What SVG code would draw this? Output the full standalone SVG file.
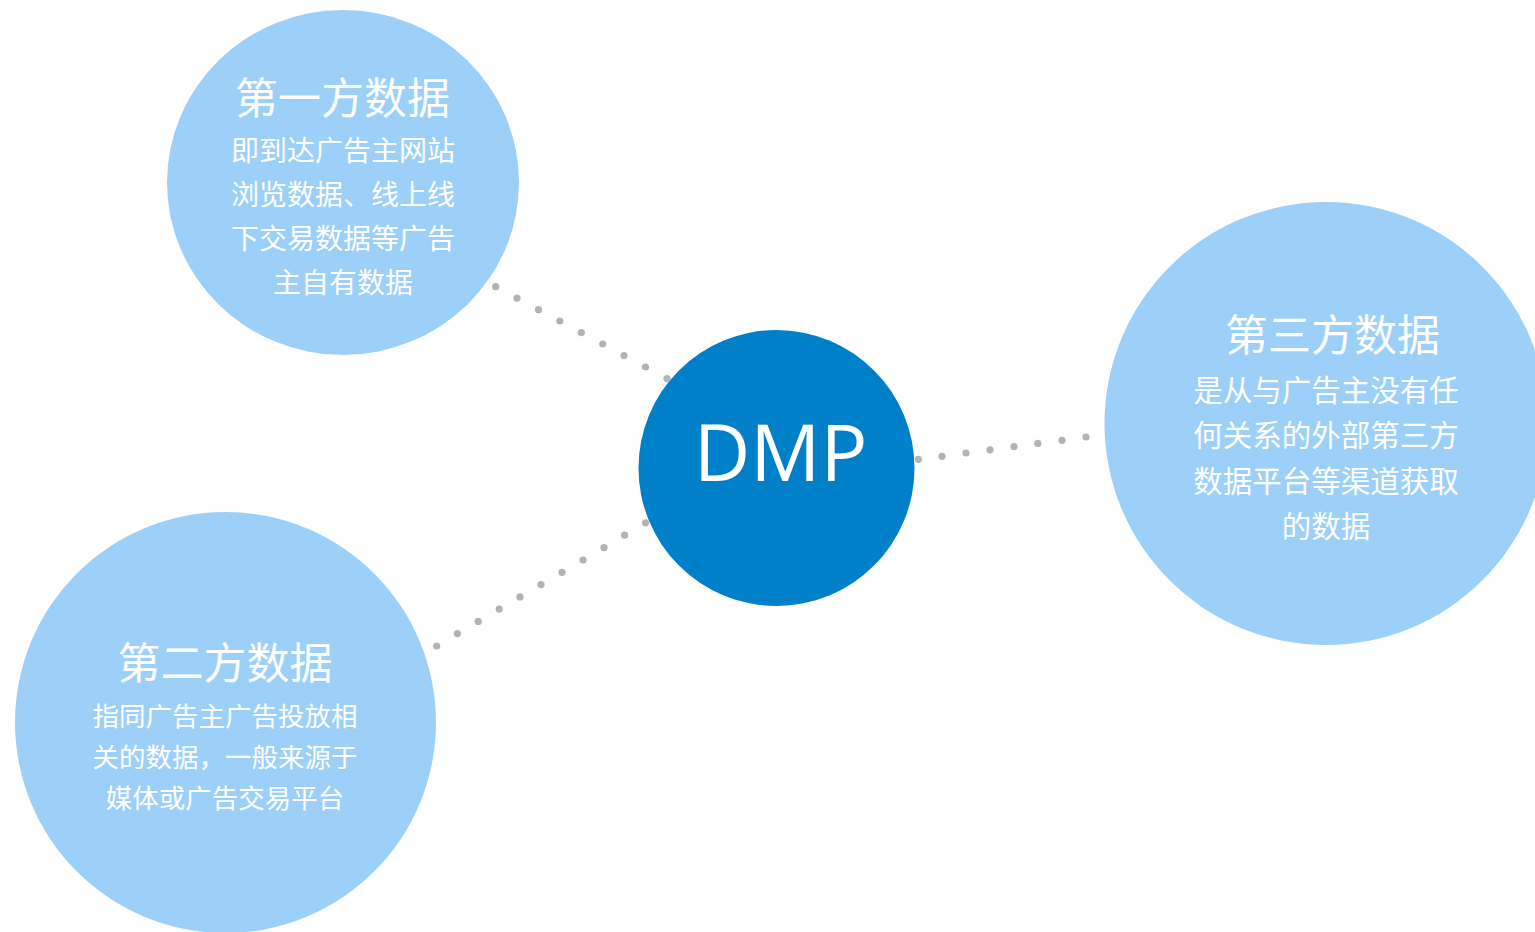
<svg xmlns="http://www.w3.org/2000/svg" width="1535" height="932" viewBox="0 0 1535 932">
<style>
.bubble{fill:#9dd0f9}
.core{fill:#0080c8}
.dot{fill:#b3b3b3}
text{fill:#ffffff;text-anchor:middle;font-family:"Noto Sans CJK SC","Noto Sans",sans-serif}
.title{font-size:43px}
.dmp{font-family:"Open Sans","Noto Sans",sans-serif;font-size:78px}
</style>
<rect width="1535" height="932" fill="#ffffff"/>
<g id="node-first">
<ellipse class="bubble" cx="343" cy="182.5" rx="176" ry="172.5"/>
<text class="title" x="342.5" y="114">第一方数据</text>
<text font-size="28" x="343" y="161">即到达广告主网站</text>
<text font-size="28" x="343" y="205">浏览数据、线上线</text>
<text font-size="28" x="343" y="249">下交易数据等广告</text>
<text font-size="28" x="343" y="293">主自有数据</text>
</g>
<g id="node-third">
<circle class="bubble" cx="1326" cy="423.5" r="221.5"/>
<text class="title" x="1332.5" y="351">第三方数据</text>
<text font-size="29.5" x="1326" y="401">是从与广告主没有任</text>
<text font-size="29.5" x="1326" y="446">何关系的外部第三方</text>
<text font-size="29.5" x="1326" y="492">数据平台等渠道获取</text>
<text font-size="29.5" x="1326" y="537">的数据</text>
</g>
<g id="node-second">
<circle class="bubble" cx="225.5" cy="722.5" r="210.5"/>
<text class="title" x="225" y="679">第二方数据</text>
<text font-size="26.5" x="225" y="726">指同广告主广告投放相</text>
<text font-size="26.5" x="225" y="767">关的数据，一般来源于</text>
<text font-size="26.5" x="225" y="808">媒体或广告交易平台</text>
</g>
<g id="node-dmp">
<circle class="core" cx="776.5" cy="468" r="138"/>
<text class="dmp" x="780.5" y="481">DMP</text>
</g>
<g id="connectors">
<circle class="dot" cx="495.7" cy="286.7" r="3.6"/>
<circle class="dot" cx="517" cy="298.2" r="3.6"/>
<circle class="dot" cx="538.5" cy="309.7" r="3.6"/>
<circle class="dot" cx="559.8" cy="321" r="3.6"/>
<circle class="dot" cx="581.3" cy="332.6" r="3.6"/>
<circle class="dot" cx="602.7" cy="344" r="3.6"/>
<circle class="dot" cx="624" cy="355.6" r="3.6"/>
<circle class="dot" cx="645.5" cy="367" r="3.6"/>
<circle class="dot" cx="667" cy="378.6" r="3.6"/>
<circle class="dot" cx="918.3" cy="459.3" r="3.6"/>
<circle class="dot" cx="942" cy="456.3" r="3.6"/>
<circle class="dot" cx="966" cy="453" r="3.6"/>
<circle class="dot" cx="990" cy="449.8" r="3.6"/>
<circle class="dot" cx="1014" cy="446.7" r="3.6"/>
<circle class="dot" cx="1037.8" cy="443.4" r="3.6"/>
<circle class="dot" cx="1062" cy="440.3" r="3.6"/>
<circle class="dot" cx="1086" cy="437" r="3.6"/>
<circle class="dot" cx="436.7" cy="646" r="3.6"/>
<circle class="dot" cx="457.4" cy="633.6" r="3.6"/>
<circle class="dot" cx="478.3" cy="621.4" r="3.6"/>
<circle class="dot" cx="499.2" cy="609.1" r="3.6"/>
<circle class="dot" cx="520" cy="596.9" r="3.6"/>
<circle class="dot" cx="541" cy="584.6" r="3.6"/>
<circle class="dot" cx="562" cy="572.3" r="3.6"/>
<circle class="dot" cx="583" cy="560" r="3.6"/>
<circle class="dot" cx="604" cy="547.6" r="3.6"/>
<circle class="dot" cx="624.6" cy="535.2" r="3.6"/>
<circle class="dot" cx="645.5" cy="522.8" r="3.6"/>
</g>
</svg>
